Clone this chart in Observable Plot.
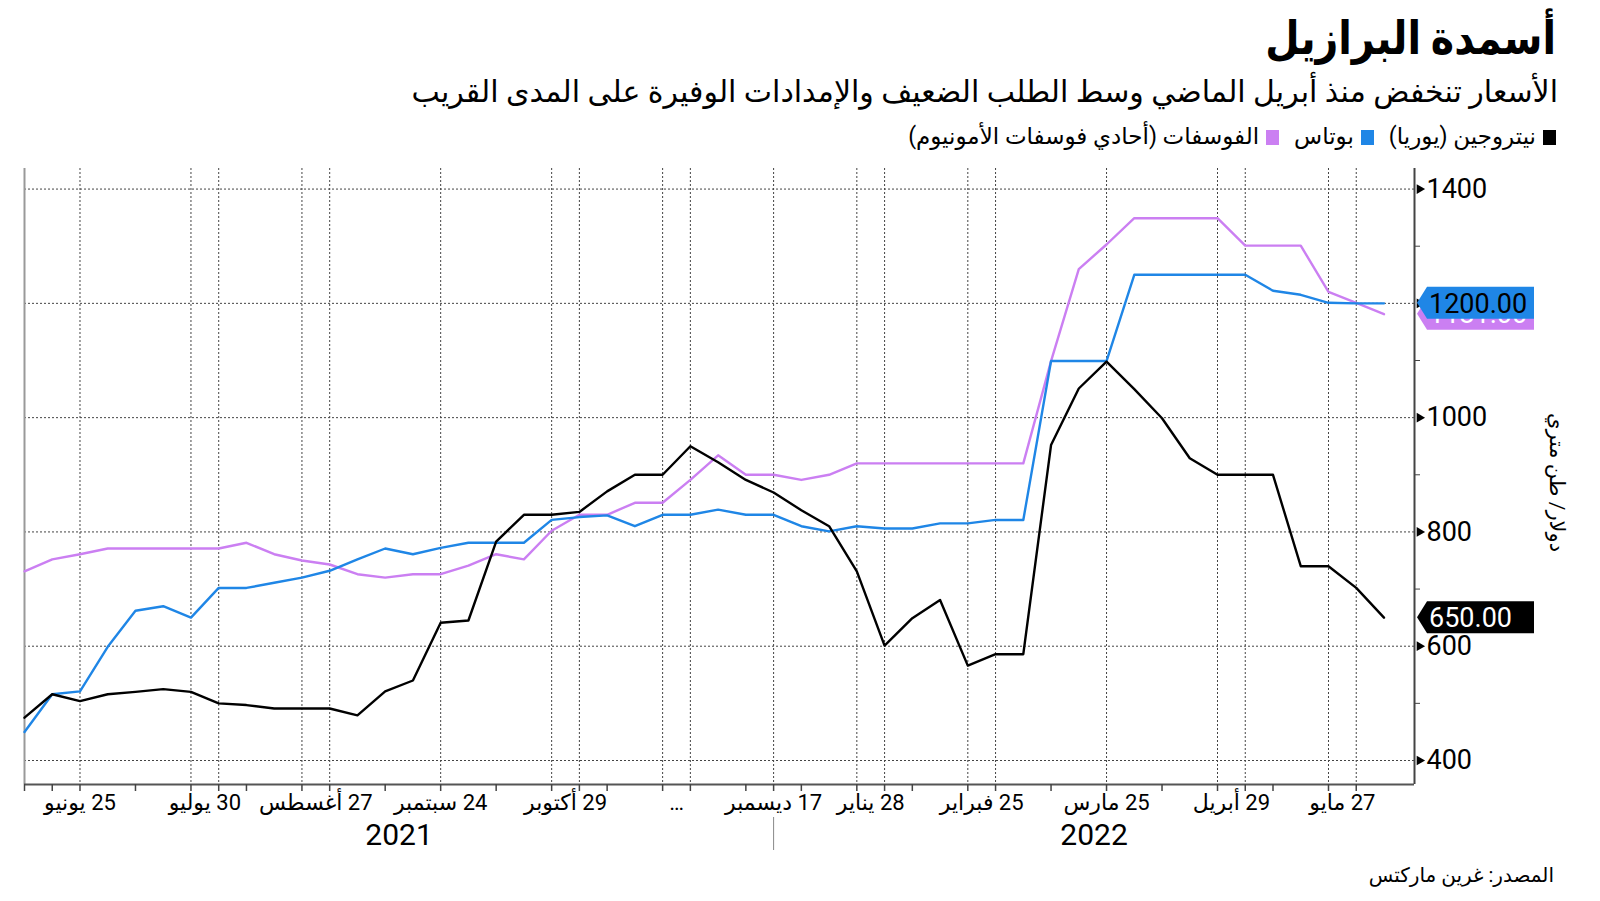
<!DOCTYPE html>
<html>
<head>
<meta charset="utf-8">
<script src="https://cdn.jsdelivr.net/npm/d3@7"></script>
<script src="https://cdn.jsdelivr.net/npm/@observablehq/plot@0.6"></script>
<style>
  html, body { margin: 0; padding: 0; background: #fff; }
  body { font-family: Roboto, "DejaVu Sans", sans-serif; color: #000; }
  #wrap { position: relative; width: 1600px; height: 901px; overflow: hidden; }
  #title { position: absolute; right: 44px; top: 11px; font-size: 46px; line-height: 54px; font-weight: bold; direction: rtl; white-space: nowrap; transform: scaleX(0.86); transform-origin: right center; }
  #subtitle { position: absolute; right: 42px; top: 73px; font-size: 30px; line-height: 38px; direction: rtl; white-space: nowrap; }
  #legend { position: absolute; right: 44px; top: 123px; font-size: 23px; line-height: 28px; direction: rtl; white-space: nowrap; }
  #legend .item { display: inline-block; margin-left: 15px; }
  #legend .sw { display: inline-block; width: 13px; height: 15px; margin-left: 7px; vertical-align: -1px; }
  #chart { position: absolute; left: 0; top: 160px; }
  #source { position: absolute; right: 46px; top: 860px; font-size: 20px; line-height: 30px; direction: rtl; white-space: nowrap; }
</style>
</head>
<body>
<div id="wrap">
  <div id="title">أسمدة البرازيل</div>
  <div id="subtitle">الأسعار تنخفض منذ أبريل الماضي وسط الطلب الضعيف والإمدادات الوفيرة على المدى القريب</div>
  <div id="legend"></div>
  <div id="chart"></div>
  <div id="source">المصدر: غرين ماركتس</div>
</div>
<script>
// ---- Data (weekly observations; the chart uses an ordinal week axis) ----
const weeks = [
  "2021-06-11","2021-06-18","2021-06-25","2021-07-02","2021-07-09","2021-07-16","2021-07-23","2021-07-30",
  "2021-08-06","2021-08-13","2021-08-20","2021-08-27","2021-09-03","2021-09-10","2021-09-17","2021-09-24",
  "2021-10-01","2021-10-08","2021-10-15","2021-10-22","2021-10-29","2021-11-05","2021-11-12","2021-11-19",
  "2021-11-26","2021-12-03","2021-12-10","2021-12-17",
  "2022-01-07","2022-01-14","2022-01-21","2022-01-28","2022-02-04","2022-02-11","2022-02-18","2022-02-25",
  "2022-03-04","2022-03-11","2022-03-18","2022-03-25","2022-04-01","2022-04-08","2022-04-15","2022-04-22",
  "2022-04-29","2022-05-06","2022-05-13","2022-05-20","2022-05-27","2022-06-03"
];

const nitrogen = [475,516,504,516,520,525,520,500,497,491,
                  491,491,479,521,540,641,645,783,830,830,
                  835,871,900,900,950,922,891,869,838,810,
                  731,601,649,681,566,586,586,952,1051,1098,
                  1050,999,929,900,900,900,740,740,702,650];

const potash = [450,516,521,599,662,670,650,702,702,711,
                720,732,752,771,761,772,781,781,781,821,
                826,829,810,830,830,839,830,830,810,801,
                810,806,806,815,815,821,821,1099,1099,1099,
                1250,1250,1250,1250,1250,1222,1215,1201,1200,1200];

const phosphate = [731,752,761,771,771,771,771,771,781,761,
                   750,743,726,720,726,726,741,761,752,802,
                   830,830,851,851,891,934,900,900,891,900,
                   920,920,920,920,920,920,920,1099,1260,1303,
                   1349,1349,1349,1349,1301,1301,1301,1220,1201,1181];

const seriesNames = ["نيتروجين (يوريا)", "بوتاس", "الفوسفات (أحادي فوسفات الأمونيوم)"];
const seriesColors = ["#000000", "#1f86e6", "#cb7ff2"];

const gridDates = ["2021-06-25","2021-07-23","2021-07-30","2021-08-20","2021-08-27","2021-09-24",
                   "2021-10-22","2021-10-29","2021-11-19","2021-11-26","2021-12-17",
                   "2022-01-21","2022-01-28","2022-02-18","2022-02-25","2022-03-25",
                   "2022-04-22","2022-04-29","2022-05-20","2022-05-27"];

const tickDates = ["2021-06-11","2021-06-18","2021-06-25","2021-07-09","2021-07-23","2021-07-30","2021-08-06",
                   "2021-08-20","2021-08-27","2021-09-10","2021-09-24","2021-10-08","2021-10-22","2021-10-29",
                   "2021-11-05","2021-11-19","2021-11-26","2021-12-10","2021-12-17","2022-01-07","2022-01-21",
                   "2022-01-28","2022-02-04","2022-02-18","2022-02-25","2022-03-11","2022-03-25","2022-04-08",
                   "2022-04-22","2022-04-29","2022-05-06","2022-05-20","2022-05-27"];

const xTickLabels = ["25 يونيو","30 يوليو","27 أغسطس","24 سبتمبر","29 أكتوبر","…","17 ديسمبر",
                     "28 يناير","25 فبراير","25 مارس","29 أبريل","27 مايو"];
const xTickLabelDates = [["2021-06-25"],["2021-07-23","2021-07-30"],["2021-08-20","2021-08-27"],["2021-09-24"],
                         ["2021-10-22","2021-10-29"],["2021-11-19","2021-11-26"],["2021-12-17"],
                         ["2022-01-21","2022-01-28"],["2022-02-18","2022-02-25"],["2022-03-25"],
                         ["2022-04-22","2022-04-29"],["2022-05-20","2022-05-27"]];

const years = ["2021", "2022"];
const yMajor = [400, 600, 800, 1000, 1200, 1400];
const yMinor = [500, 700, 900, 1100, 1300];
const yLabel = "دولار/ طن متري";

// ---- Helpers ----
const idx = d => weeks.indexOf(d);
const xMax = weeks.length + 0.1;           // axis extends a little past the last week
const yDomain = [358, 1436];
const yearBreak = idx("2021-12-17");
const yearMid = [yearBreak / 2, (yearBreak + xMax) / 2];

const labelRows = xTickLabels.map((t, i) => ({text: t, pos: d3.mean(xTickLabelDates[i], idx)}));
const yearRows = years.map((t, i) => ({text: t, pos: yearMid[i]}));

const seriesData = [nitrogen, potash, phosphate];
const drawOrder = [2, 1, 0];

// Legend
const legend = document.getElementById("legend");
seriesNames.forEach((n, i) => {
  const it = document.createElement("span");
  it.className = "item";
  it.innerHTML = `<span class="sw" style="background:${seriesColors[i]}"></span>${n}`;
  legend.appendChild(it);
});

// Value tags on the right axis (purple under blue under black)
const tags = drawOrder.map(i => ({value: seriesData[i][seriesData[i].length - 1], fill: seriesColors[i],
                                  text: i === 1 ? "#000" : "#fff"}));
function tagMark(index, scales, values, dims) {
  const g = d3.create("svg:g").attr("text-anchor", "start");
  const x0 = scales.x(xMax);
  for (const t of tags) {
    const cy = scales.y(t.value);
    const h = 16;
    g.append("path")
      .attr("d", `M${x0 + 3},${cy} L${x0 + 13},${cy - h} L${x0 + 120},${cy - h} L${x0 + 120},${cy + h} L${x0 + 13},${cy + h} Z`)
      .attr("fill", t.fill);
    g.append("text")
      .attr("x", x0 + 15).attr("y", cy).attr("dy", "0.36em")
      .attr("text-anchor", "start")
      .attr("fill", t.text).attr("font-size", 27)
      .text(t.value.toFixed(2));
  }
  return g.node();
}

const grid = {stroke: "#444", strokeWidth: 1, strokeDasharray: "2,2"};

const svg = Plot.plot({
  width: 1600,
  height: 700,
  marginLeft: 24,
  marginRight: 186,
  marginTop: 8,
  marginBottom: 76,
  x: {domain: [0, xMax], axis: null, label: null},
  y: {domain: yDomain, axis: null, label: null},
  style: {fontFamily: 'Roboto, "DejaVu Sans", sans-serif', background: "transparent", overflow: "visible", color: "#000"},
  marks: [
    Plot.ruleY(yMajor, {...grid, x1: 0, x2: xMax}),
    Plot.ruleX(gridDates.map(idx), grid),
    Plot.ruleX([0], {stroke: "#999", strokeWidth: 2}),
    ...drawOrder.map(s => Plot.line(seriesData[s], {x: (d, i) => i, y: d => d, stroke: seriesColors[s], strokeWidth: 2.4})),
    Plot.ruleY([yDomain[0]], {x1: 0, x2: xMax, stroke: "#555", strokeWidth: 2}),
    Plot.ruleX([xMax], {stroke: "#444", strokeWidth: 2}),
    Plot.axisX(tickDates.map(idx), {anchor: "bottom", tickSize: 7, tickFormat: () => "", label: null, stroke: "#444", strokeWidth: 1.5}),
    Plot.text(labelRows, {x: "pos", text: "text", frameAnchor: "bottom", dy: 25, fontSize: 22, fill: "#000"}),
    Plot.ruleX([yearBreak], {insetTop: 649, insetBottom: -66, stroke: "#888", strokeWidth: 1}),
    Plot.text(yearRows, {x: "pos", text: "text", frameAnchor: "bottom", dy: 60, fontSize: 30, fill: "#000"}),
    Plot.axisY(yMinor, {anchor: "right", tickSize: 5, tickFormat: () => "", label: null, stroke: "#444"}),
    Plot.axisY(yMajor, {anchor: "right", tickSize: 0, tickPadding: 12, tickFormat: d => String(d), fontSize: 27, label: null}),
    Plot.dot(yMajor, {x: () => xMax, y: d => d, symbol: "triangle", rotate: 90, r: 3.6, fill: "#000", stroke: "none", dx: 5}),
    Plot.text([yLabel], {frameAnchor: "right", textAnchor: "middle", dx: 142, dy: 6, rotate: 90, fontSize: 21, fill: "#000"}),
    tagMark
  ]
});

d3.select(svg).selectAll("text")
  .filter(function () { return /[\u0600-\u06FF]/.test(this.textContent); })
  .attr("direction", "rtl")
  .style("unicode-bidi", "embed");

document.getElementById("chart").appendChild(svg);
</script>
</body>
</html>
